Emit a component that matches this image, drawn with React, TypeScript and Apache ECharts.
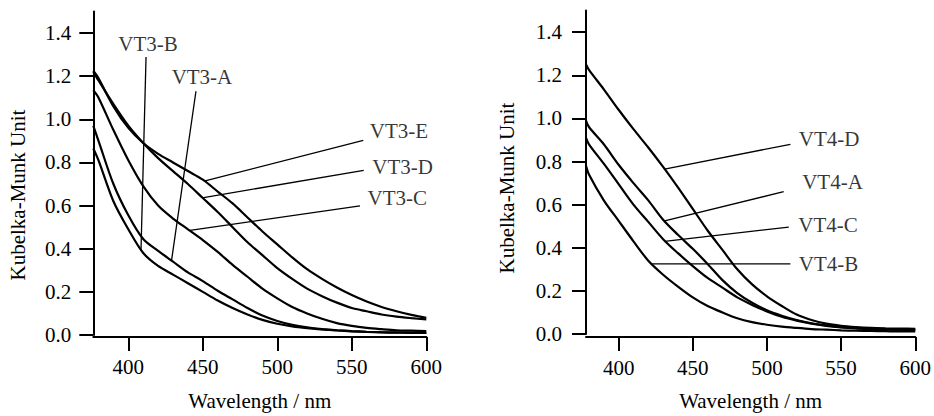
import React, { useEffect, useRef } from "react";
import * as echarts from "echarts";

const FONT = "Liberation Serif";
const INK = "#000";

// Left panel (VT3)
const WL_LEFT = [376.5, 380, 390, 400, 410, 420, 430, 440, 450, 460, 470, 480, 490, 500, 510, 520, 530, 540, 550, 560, 570, 580, 590, 600];
const VT3_E = [1.225, 1.19, 1.06, 0.96, 0.89, 0.84, 0.8, 0.76, 0.72, 0.665, 0.61, 0.545, 0.48, 0.42, 0.36, 0.305, 0.26, 0.22, 0.185, 0.155, 0.13, 0.11, 0.093, 0.08];
const VT3_D = [1.22, 1.18, 1.07, 0.97, 0.89, 0.82, 0.76, 0.7, 0.635, 0.57, 0.5, 0.43, 0.37, 0.31, 0.26, 0.215, 0.18, 0.15, 0.125, 0.11, 0.095, 0.085, 0.078, 0.072];
const VT3_C = [1.135, 1.1, 0.95, 0.81, 0.69, 0.6, 0.54, 0.49, 0.44, 0.385, 0.325, 0.27, 0.215, 0.17, 0.13, 0.1, 0.075, 0.055, 0.042, 0.033, 0.027, 0.022, 0.02, 0.018];
const VT3_A = [0.97, 0.9, 0.7, 0.555, 0.445, 0.39, 0.34, 0.29, 0.25, 0.205, 0.165, 0.125, 0.09, 0.065, 0.047, 0.035, 0.027, 0.022, 0.018, 0.015, 0.013, 0.012, 0.011, 0.01];
const VT3_B = [0.865, 0.81, 0.62, 0.49, 0.38, 0.32, 0.28, 0.24, 0.2, 0.16, 0.125, 0.095, 0.07, 0.052, 0.04, 0.032, 0.026, 0.021, 0.017, 0.014, 0.012, 0.011, 0.01, 0.01];

// Right panel (VT4)
const WL_RIGHT = [378, 380, 390, 400, 410, 420, 430, 440, 450, 460, 470, 480, 490, 500, 510, 520, 530, 540, 550, 560, 570, 580, 590, 600];
const VT4_D = [1.25, 1.225, 1.135, 1.04, 0.95, 0.865, 0.775, 0.68, 0.58, 0.48, 0.39, 0.3, 0.23, 0.175, 0.13, 0.09, 0.065, 0.048, 0.038, 0.032, 0.028, 0.026, 0.025, 0.024];
const VT4_A = [0.99, 0.96, 0.88, 0.785, 0.7, 0.62, 0.53, 0.46, 0.395, 0.325, 0.25, 0.19, 0.145, 0.11, 0.085, 0.065, 0.05, 0.04, 0.032, 0.027, 0.024, 0.022, 0.021, 0.02];
const VT4_C = [0.91, 0.88, 0.79, 0.695, 0.6, 0.52, 0.44, 0.375, 0.315, 0.26, 0.215, 0.17, 0.135, 0.105, 0.08, 0.062, 0.048, 0.038, 0.031, 0.026, 0.023, 0.021, 0.02, 0.019];
const VT4_B = [0.78, 0.74, 0.62, 0.525, 0.43, 0.34, 0.275, 0.22, 0.17, 0.13, 0.1, 0.073, 0.055, 0.043, 0.034, 0.028, 0.023, 0.02, 0.017, 0.015, 0.014, 0.013, 0.012, 0.012];

const X_TICKS = [400, 450, 500, 550, 600];
const Y_TICKS = [0, 0.2, 0.4, 0.6, 0.8, 1.0, 1.2, 1.4];

// Annotation pointers: name, tip on curve, end of leader line
const ANN_LEFT_NAMES = ["VT3-E", "VT3-D", "VT3-C", "VT3-B", "VT3-A"];
const ANN_LEFT_TIP = [[451.5, 0.714], [449.6, 0.636], [441.4, 0.485], [408.5, 0.39], [429, 0.345]];
const ANN_LEFT_END = [[557.7, 0.902], [558, 0.763], [555.5, 0.599], [411.9, 1.289], [445.4, 1.13]];
const ANN_RIGHT_NAMES = ["VT4-D", "VT4-A", "VT4-C", "VT4-B"];
const ANN_RIGHT_TIP = [[431, 0.765], [431, 0.525], [431, 0.43], [422, 0.325]];
const ANN_RIGHT_END = [[515.8, 0.88], [511.3, 0.66], [514.7, 0.496], [515.8, 0.325]];

// label placement styles (position, distance, offset) per annotation
const LBL_LEFT = [
  { position: "right", distance: 6, offset: [0, -9] },
  { position: "right", distance: 8, offset: [0, -3] },
  { position: "right", distance: 7, offset: [0, -8] },
  { position: "top", distance: 2, offset: [2, 0] },
  { position: "top", distance: 3, offset: [6, 0] },
];
const LBL_RIGHT = [
  { position: "right", distance: 8, offset: [0, -5] },
  { position: "right", distance: 18, offset: [0, -10] },
  { position: "right", distance: 9, offset: [0, -2] },
  { position: "right", distance: 8, offset: [0, 0] },
];

function curve(wl: number[], vals: number[], idx: number, name: string) {
  return {
    type: "line",
    name,
    xAxisIndex: idx,
    yAxisIndex: idx,
    data: wl.map((w, i) => [w, vals[i]]),
    symbol: "none",
    smooth: 0.3,
    lineStyle: { color: INK, width: 2.2 },
    silent: true,
    z: 3,
  };
}

function pointers(names: string[], tips: number[][], ends: number[][], lbls: any[], idx: number) {
  const out: any[] = names.map((n, i) => ({
    type: "line",
    xAxisIndex: idx,
    yAxisIndex: idx,
    data: [tips[i], ends[i]],
    symbol: "none",
    lineStyle: { color: INK, width: 1.3 },
    silent: true,
    z: 4,
  }));
  out.push({
    type: "scatter",
    xAxisIndex: idx,
    yAxisIndex: idx,
    symbolSize: 1,
    itemStyle: { color: "rgba(0,0,0,0)" },
    silent: true,
    z: 5,
    data: names.map((n, i) => ({
      value: ends[i],
      label: {
        show: true,
        formatter: n,
        position: lbls[i].position,
        distance: lbls[i].distance,
        offset: lbls[i].offset,
        fontFamily: FONT,
        fontSize: 21,
        color: INK,
      },
    })),
  });
  return out;
}

function xAxis(idx: number, min: number, offset: number, margin: number) {
  return {
    type: "value",
    gridIndex: idx,
    min,
    max: 600,
    offset,
    name: "Wavelength / nm",
    nameLocation: "middle",
    nameGap: 53,
    nameTextStyle: { fontFamily: FONT, fontSize: 21, color: INK },
    axisLine: { show: true, onZero: false, lineStyle: { color: INK, width: 2 } },
    axisTick: { show: true, length: 14, lineStyle: { color: INK, width: 2 }, customValues: X_TICKS },
    axisLabel: { fontFamily: FONT, fontSize: 21, color: INK, margin, customValues: X_TICKS },
    splitLine: { show: false },
  };
}

function yAxis(idx: number, margin: number) {
  return {
    type: "value",
    gridIndex: idx,
    min: 0,
    max: 1.5,
    axisLine: { show: true, onZero: false, lineStyle: { color: INK, width: 2 } },
    axisTick: { show: true, length: 14, lineStyle: { color: INK, width: 2 }, customValues: Y_TICKS },
    axisLabel: {
      fontFamily: FONT,
      fontSize: 21,
      color: INK,
      margin,
      customValues: Y_TICKS,
      formatter: (v: number) => v.toFixed(1),
    },
    splitLine: { show: false },
  };
}

function yTitle(x: number, y: number) {
  return {
    type: "text",
    x,
    y,
    rotation: Math.PI / 2,
    style: {
      text: "Kubelka-Munk Unit",
      fontFamily: FONT,
      fontSize: 21,
      fill: INK,
      align: "center",
      verticalAlign: "middle",
      textAlign: "center",
      textVerticalAlign: "middle",
    },
  };
}

export default function App() {
  const ref = useRef<HTMLDivElement>(null);
  useEffect(() => {
    if (!ref.current) return;
    const chart = echarts.init(ref.current, null, { renderer: "svg" });
    const option: any = {
      animation: false,
      backgroundColor: "#ffffff",
      textStyle: { fontFamily: FONT },
      grid: [
        { left: 93.3, top: 11.45, width: 333, height: 329.25 },
        { left: 586, top: 10.6, width: 331.3, height: 325.4 },
      ],
      xAxis: [xAxis(0, 376.5, 2, 19), xAxis(1, 378, 3, 20)],
      yAxis: [yAxis(0, 22), yAxis(1, 24)],
      graphic: [yTitle(18, 195), yTitle(507, 188)],
      series: [
        curve(WL_LEFT, VT3_E, 0, "VT3-E"),
        curve(WL_LEFT, VT3_D, 0, "VT3-D"),
        curve(WL_LEFT, VT3_C, 0, "VT3-C"),
        curve(WL_LEFT, VT3_A, 0, "VT3-A"),
        curve(WL_LEFT, VT3_B, 0, "VT3-B"),
        curve(WL_RIGHT, VT4_D, 1, "VT4-D"),
        curve(WL_RIGHT, VT4_A, 1, "VT4-A"),
        curve(WL_RIGHT, VT4_C, 1, "VT4-C"),
        curve(WL_RIGHT, VT4_B, 1, "VT4-B"),
        ...pointers(ANN_LEFT_NAMES, ANN_LEFT_TIP, ANN_LEFT_END, LBL_LEFT, 0),
        ...pointers(ANN_RIGHT_NAMES, ANN_RIGHT_TIP, ANN_RIGHT_END, LBL_RIGHT, 1),
      ],
    };
    chart.setOption(option);
    return () => chart.dispose();
  }, []);
  return (
    <div
      ref={ref}
      style={{ position: "fixed", left: 0, top: 0, width: 934, height: 416, background: "#fff" }}
    />
  );
}
